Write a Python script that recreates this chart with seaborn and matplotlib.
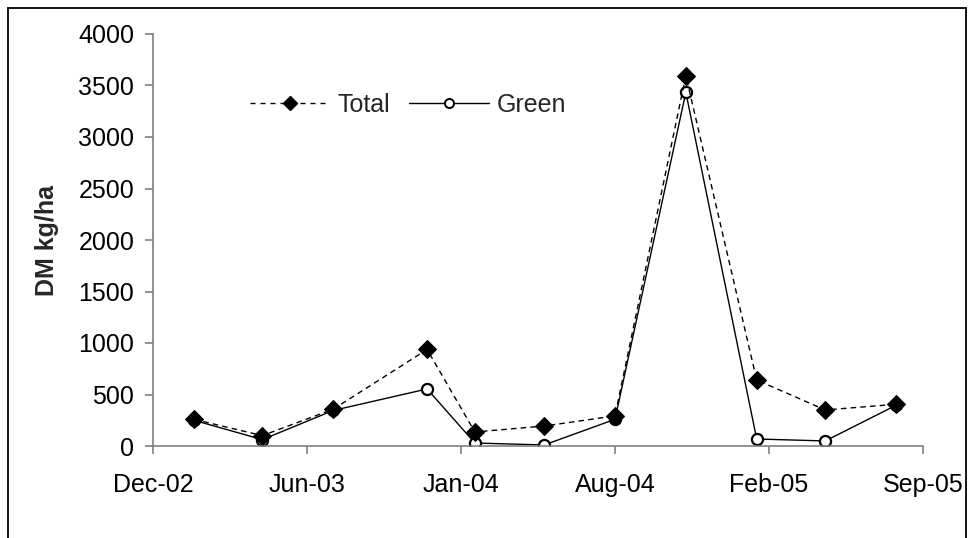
import matplotlib
matplotlib.use("Agg")
import matplotlib.pyplot as plt
import matplotlib.dates as mdates
from matplotlib.lines import Line2D
import seaborn as sns
import numpy as np
import pandas as pd

# sampling dates and dry matter (kg/ha)
dates = ["2003-02-01", "2003-05-01", "2003-08-01", "2003-12-01", "2004-02-01", "2004-05-01",
         "2004-08-01", "2004-11-01", "2005-02-01", "2005-05-01", "2005-08-01"]
total = [259, 101, 357, 937, 136, 194, 292, 3596, 641, 350, 405]
green = [250, 62, 345, 554, 29, 10, 259, 3434, 68, 49, 395]

# excel-style date axis: 200 day steps
x_ticks = ["2002-12-10", "2003-06-28", "2004-01-14", "2004-08-01", "2005-02-17", "2005-09-05"]
y_ticks = [0, 500, 1000, 1500, 2000, 2500, 3000, 3500, 4000]

df = pd.DataFrame({"date": pd.to_datetime(dates), "Total": total, "Green": green})

sns.set_style("white")
plt.rcParams["font.family"] = ["Liberation Sans", "DejaVu Sans"]

fig = plt.figure(figsize=(9.69, 5.38), dpi=100)
ax = fig.add_axes([153 / 969, 1 - 446 / 538, 770 / 969, 412 / 538])

# green first so the total diamonds sit on top
sns.lineplot(data=df, x="date", y="Green", ax=ax, color="black", lw=1.0,
             marker="o", markersize=8, mfc="white", mec="black", mew=1.6)
sns.lineplot(data=df, x="date", y="Total", ax=ax, color="black", lw=1.0,
             marker="D", markersize=9, mfc="black", mec="black")
ax.lines[-1].set_dashes((4, 3))

tick_dates = pd.to_datetime(x_ticks)
ax.set_xlim(tick_dates[0], tick_dates[-1])
ax.set_xticks(tick_dates)
ax.xaxis.set_major_formatter(mdates.DateFormatter("%b-%y"))
ax.set_ylim(0, 4000)
ax.set_yticks(y_ticks)

for side in ["top", "right"]:
    ax.spines[side].set_visible(False)
for side in ["left", "bottom"]:
    ax.spines[side].set_color("#808080")
    ax.spines[side].set_linewidth(1.2)

ax.tick_params(axis="both", direction="out", length=5.5, width=1.2, color="#808080",
               labelsize=18, labelcolor="black", left=True, bottom=True)
ax.tick_params(axis="y", pad=8)
ax.tick_params(axis="x", pad=14)

ax.set_xlabel("")
ax.set_ylabel("DM kg/ha", fontsize=18, fontweight="bold", va="center")
ax.yaxis.set_label_coords(-0.138, 0.5)

handles = [
    Line2D([], [], color="black", lw=1.0, dashes=(3.6, 3.6), marker="D", markersize=7,
           mfc="black", mec="black"),
    Line2D([], [], color="black", lw=1.0, marker="o", markersize=6.5, mfc="white",
           mec="black", mew=1.4),
]
ax.legend(handles, ["Total", "Green"], ncol=2, frameon=False, fontsize=18,
          handlelength=3.2, handletextpad=0.3, columnspacing=0.75,
          loc="center left", bbox_to_anchor=(250 / 969, 1 - 105 / 538),
          bbox_transform=fig.transFigure, borderpad=0, borderaxespad=0)

# chart area border
fig.add_artist(plt.Rectangle((8 / 969, -0.05), 958 / 969, 1.05 - 7.5 / 538,
                             transform=fig.transFigure, fill=False, ec="black", lw=1.3))

fig.savefig("out.png", dpi=100)
